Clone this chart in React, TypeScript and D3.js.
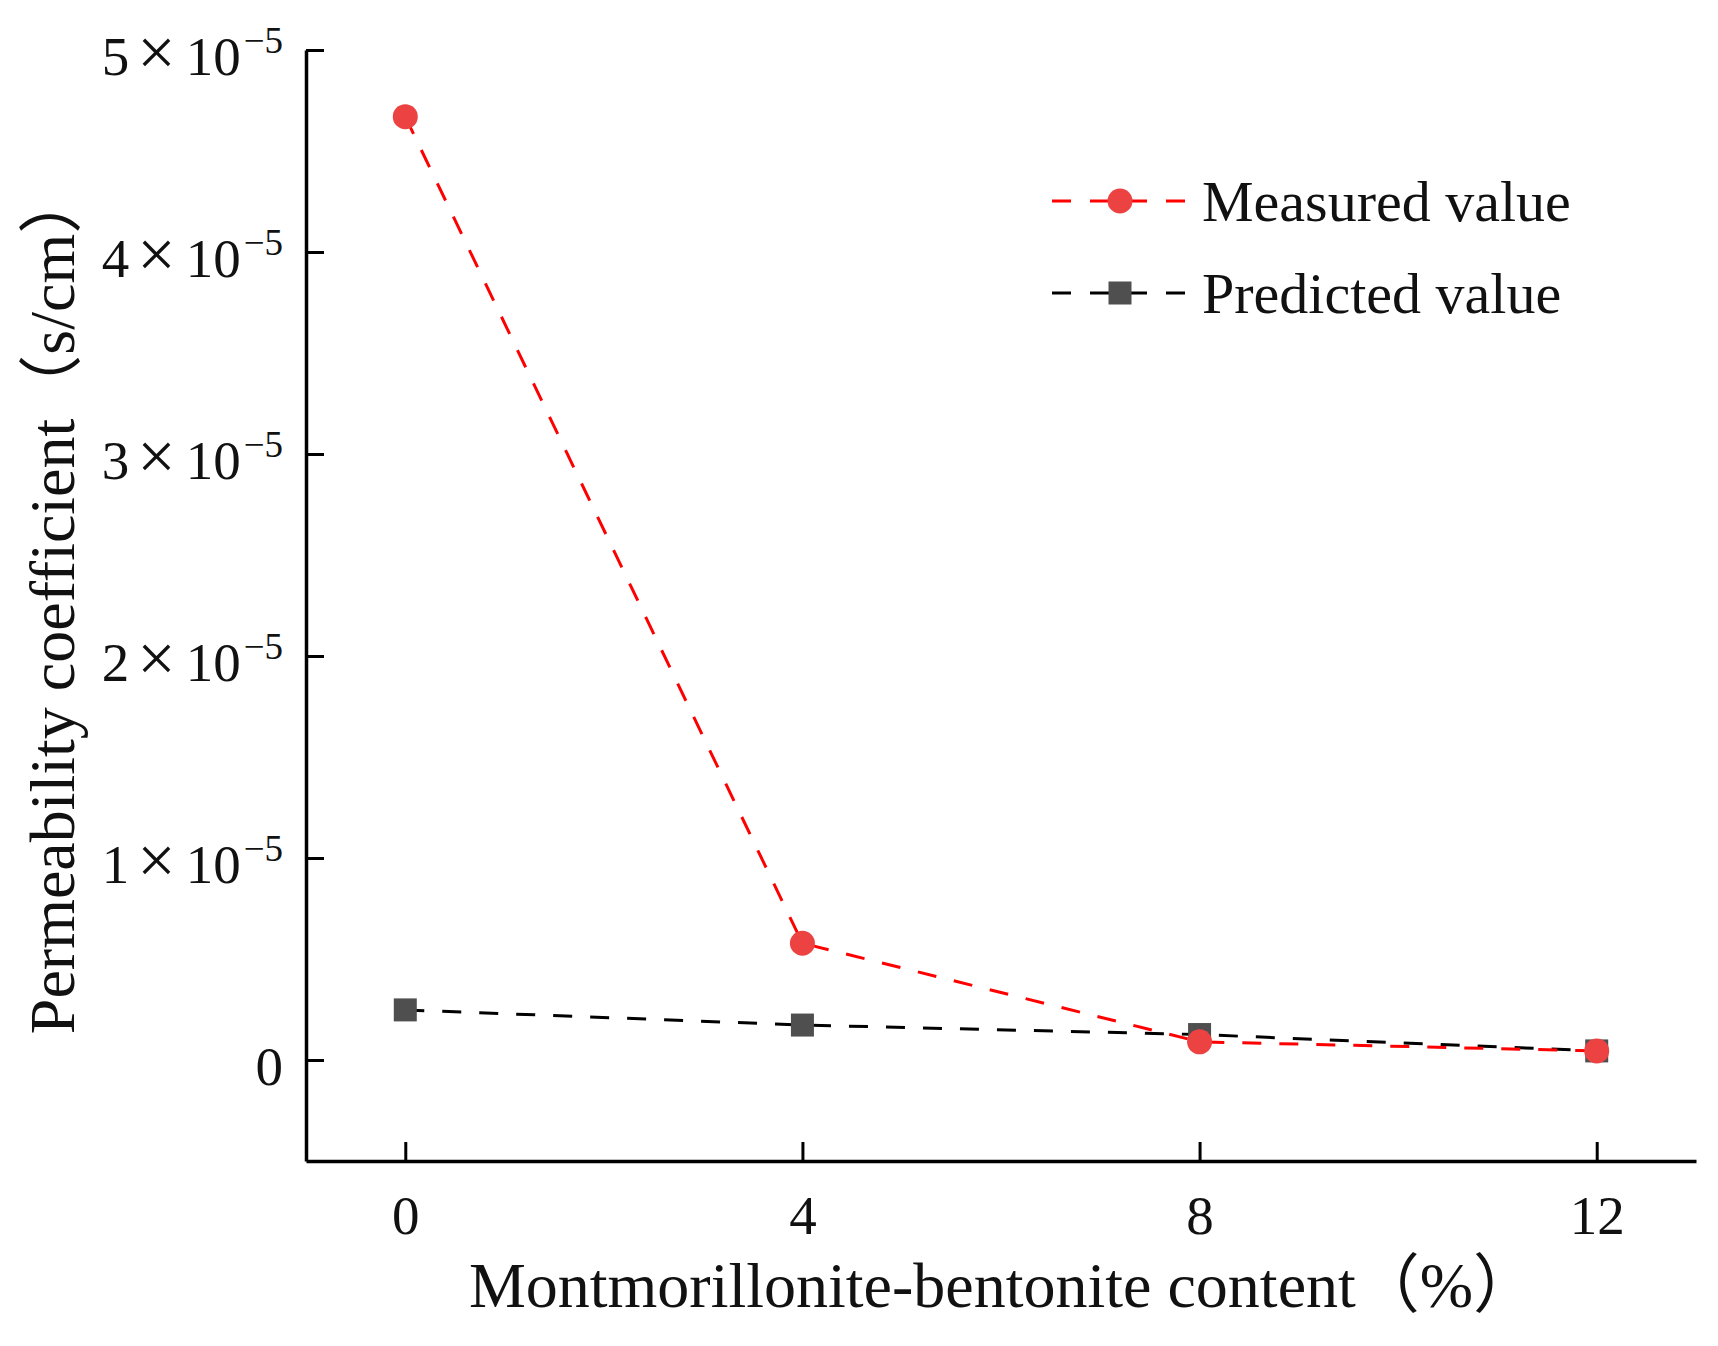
import { useEffect, useRef } from "react"
import * as d3 from "d3"

// data
const contents = [0, 4, 8, 12]
const measuredValues = [4.67e-5, 0.578e-5, 0.09e-5, 0.045e-5]
const predictedValues = [0.248e-5, 0.173e-5, 0.126e-5, 0.045e-5]
const xTickValues = [0, 4, 8, 12]
const yTickValues = [0, 1e-5, 2e-5, 3e-5, 4e-5, 5e-5]
const yTickMantissas = ["0", "1", "2", "3", "4", "5"]
const seriesNames = ["Measured value", "Predicted value"]

const FONT = '"Liberation Serif", "Times New Roman", "Noto Sans CJK SC", serif'

export default function App() {
  const svgRef = useRef<SVGSVGElement>(null)

  useEffect(() => {
    if (!svgRef.current) return
    const svg = d3.select(svgRef.current)
    svg.selectAll("*").remove()

    const left = 306
    const right = 1696
    const top = 50
    const bottom = 1161

    const x = d3.scaleLinear().domain([-1, 13]).range([left, right])
    const y = d3.scaleLinear().domain([-0.5e-5, 5e-5]).range([bottom, top])

    // x axis, ticks pointing inward
    const gx = svg
      .append("g")
      .attr("transform", `translate(0,${bottom})`)
      .call(
        d3
          .axisBottom(x)
          .tickValues(xTickValues)
          .tickSizeInner(-19)
          .tickSizeOuter(0)
          .tickPadding(34)
          .tickFormat((d) => String(d))
      )
    gx.select(".domain").attr("stroke", "#000").attr("stroke-width", 3.5)
    gx.selectAll(".tick line").attr("stroke", "#000").attr("stroke-width", 3)
    gx.selectAll(".tick text")
      .attr("fill", "#111")
      .style("font-family", FONT)
      .style("font-size", "55px")

    // y axis, ticks pointing inward, labels drawn by hand for the exponent
    const gy = svg
      .append("g")
      .attr("transform", `translate(${left},0)`)
      .call(
        d3
          .axisLeft(y)
          .tickValues(yTickValues)
          .tickSizeInner(-18)
          .tickSizeOuter(0)
          .tickFormat(() => "")
      )
    gy.select(".domain").attr("stroke", "#000").attr("stroke-width", 3.5)
    gy.selectAll(".tick line").attr("stroke", "#000").attr("stroke-width", 3)

    const yLabels = svg
      .append("g")
      .selectAll("text")
      .data(yTickValues)
      .enter()
      .append("text")
      .attr("x", left - 23)
      .attr("y", (d) => y(d) + 25)
      .attr("text-anchor", "end")
      .attr("fill", "#111")
      .style("font-family", FONT)
      .style("font-size", "55px")

    yLabels.each(function (d, i) {
      const t = d3.select(this)
      if (d === 0) {
        t.text("0")
        return
      }
      t.append("tspan").text(yTickMantissas[i])
      t.append("tspan").attr("dx", 8).style("font-size", "68px").text("×")
      t.append("tspan").attr("dx", 10).text("10")
      t.append("tspan")
        .attr("dy", -22)
        .attr("dx", 3)
        .style("font-size", "37px")
        .text("−5")
    })

    const line = d3
      .line<number>()
      .x((_, i) => x(contents[i]))
      .y((d) => y(d))

    // predicted series
    svg
      .append("path")
      .datum(predictedValues)
      .attr("d", line)
      .attr("fill", "none")
      .attr("stroke", "#000")
      .attr("stroke-width", 3)
      .attr("stroke-dasharray", "19,18")

    svg
      .append("g")
      .selectAll("rect")
      .data(predictedValues)
      .enter()
      .append("rect")
      .attr("x", (_, i) => x(contents[i]) - 11.5)
      .attr("y", (d) => y(d) - 11.5)
      .attr("width", 23)
      .attr("height", 23)
      .attr("fill", "#4f4f4f")

    // measured series
    svg
      .append("path")
      .datum(measuredValues)
      .attr("d", line)
      .attr("fill", "none")
      .attr("stroke", "#ff0000")
      .attr("stroke-width", 3)
      .attr("stroke-dasharray", "19,18")

    svg
      .append("g")
      .selectAll("circle")
      .data(measuredValues)
      .enter()
      .append("circle")
      .attr("cx", (_, i) => x(contents[i]))
      .attr("cy", (d) => y(d))
      .attr("r", 12.5)
      .attr("fill", "#ec4242")

    // axis titles
    svg
      .append("text")
      .attr("x", 1003)
      .attr("y", 1307)
      .attr("text-anchor", "middle")
      .attr("fill", "#111")
      .style("font-family", FONT)
      .style("font-size", "64px")
      .text("Montmorillonite-bentonite content（%）")

    svg
      .append("text")
      .attr("transform", "translate(74,602) rotate(-90)")
      .attr("text-anchor", "middle")
      .attr("fill", "#111")
      .style("font-family", FONT)
      .style("font-size", "64px")
      .text("Permeability coefficient（s/cm）")

    // legend
    const legendRows = [
      { cy: 201, color: "#ff0000", marker: "circle" },
      { cy: 293, color: "#000", marker: "square" },
    ]
    const legend = svg.append("g")
    legendRows.forEach((row, i) => {
      legend
        .append("line")
        .attr("x1", 1052)
        .attr("x2", 1188)
        .attr("y1", row.cy)
        .attr("y2", row.cy)
        .attr("stroke", row.color)
        .attr("stroke-width", 3)
        .attr("stroke-dasharray", "19,19")
      if (row.marker === "circle") {
        legend.append("circle").attr("cx", 1120).attr("cy", row.cy).attr("r", 12.5).attr("fill", "#ec4242")
      } else {
        legend
          .append("rect")
          .attr("x", 1120 - 11.5)
          .attr("y", row.cy - 11.5)
          .attr("width", 23)
          .attr("height", 23)
          .attr("fill", "#4f4f4f")
      }
      legend
        .append("text")
        .attr("x", 1202)
        .attr("y", row.cy + 20)
        .attr("fill", "#111")
        .style("font-family", FONT)
        .style("font-size", "58px")
        .text(seriesNames[i])
    })
  }, [])

  return (
    <svg
      ref={svgRef}
      width={1718}
      height={1346}
      style={{ position: "absolute", left: 0, top: 0, background: "#fff" }}
    ></svg>
  )
}
